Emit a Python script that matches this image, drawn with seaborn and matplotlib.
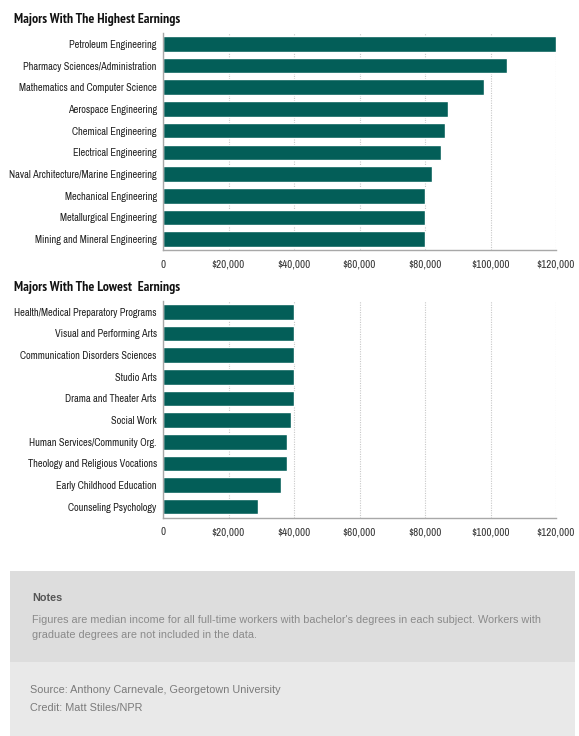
import matplotlib
matplotlib.use("Agg")
import matplotlib.pyplot as plt
import seaborn as sns
from matplotlib.patches import Rectangle
from matplotlib import font_manager

# ---------------- data ----------------
high_title = "Majors With The Highest Earnings"
high_majors = [
    "Petroleum Engineering",
    "Pharmacy Sciences/Administration",
    "Mathematics and Computer Science",
    "Aerospace Engineering",
    "Chemical Engineering",
    "Electrical Engineering",
    "Naval Architecture/Marine Engineering",
    "Mechanical Engineering",
    "Metallurgical Engineering",
    "Mining and Mineral Engineering",
]
high_earnings = [120000, 105000, 98000, 87000, 86000, 85000, 82000, 80000, 80000, 80000]

low_title = "Majors With The Lowest  Earnings"
low_majors = [
    "Health/Medical Preparatory Programs",
    "Visual and Performing Arts",
    "Communication Disorders Sciences",
    "Studio Arts",
    "Drama and Theater Arts",
    "Social Work",
    "Human Services/Community Org.",
    "Theology and Religious Vocations",
    "Early Childhood Education",
    "Counseling Psychology",
]
low_earnings = [40000, 40000, 40000, 40000, 40000, 39000, 38000, 38000, 36000, 29000]

x_ticks = [0, 20000, 40000, 60000, 80000, 100000, 120000]
x_tick_labels = ["0", "$20,000", "$40,000", "$60,000", "$80,000", "$100,000", "$120,000"]

notes_title = "Notes"
notes_lines = [
    "Figures are median income for all full-time workers with bachelor's degrees in each subject. Workers with",
    "graduate degrees are not included in the data.",
]
source_lines = [
    "Source: Anthony Carnevale, Georgetown University",
    "Credit: Matt Stiles/NPR",
]

# ---------------- style ----------------
W, H = 579, 736
BAR = "#035e58"
sns.set_theme(style="white")

entries = font_manager.fontManager.ttflist
names = {f.name for f in entries}


def wnum(w):
    if isinstance(w, str):
        return font_manager.weight_dict.get(w, 400)
    return w


def has_bold(name):
    return any(f.name == name and wnum(f.weight) >= 700 for f in entries)


NARROW = "Archivo Narrow" if "Archivo Narrow" in names else (
    "PT Sans Narrow" if "PT Sans Narrow" in names else "DejaVu Sans")
BOLD_NARROW = "DejaVu Sans"
for cand in ["PT Sans Narrow", "Archivo Narrow", "Fira Sans Condensed",
             "IBM Plex Sans Condensed", "Encode Sans Condensed", "Asap Condensed"]:
    if cand in names and has_bold(cand):
        BOLD_NARROW = cand
        break
REG = "Liberation Sans" if "Liberation Sans" in names else "DejaVu Sans"
plt.rcParams["font.family"] = [NARROW, "DejaVu Sans"]
NFAM = [NARROW, "DejaVu Sans"]
BFAM = [BOLD_NARROW, "DejaVu Sans"]
RFAM = [REG, "DejaVu Sans"]

fig = plt.figure(figsize=(W / 100, H / 100), dpi=100)
fig.patch.set_facecolor("white")
renderer = fig.canvas.get_renderer()


def fit_size(text, family, weight, target_px, base=8.0):
    t = fig.text(0, 0, text, fontsize=base, family=family, fontweight=weight)
    w = t.get_window_extent(renderer).width
    t.remove()
    return base * target_px / w


YLAB = fit_size("Naval Architecture/Marine Engineering", NFAM, "normal", 147)
XLAB = fit_size("$20,000", NFAM, "normal", 33)
TSIZE = fit_size(high_title, BFAM, "bold", 165)
NSIZE = fit_size(notes_lines[0], RFAM, "normal", 509)
SSIZE = fit_size(source_lines[0], RFAM, "normal", 251)


def px_axes(left, top, right, bottom):
    return fig.add_axes([left / W, 1 - bottom / H, (right - left) / W, (bottom - top) / H])


def fx(x):
    return x / W


def fy(y):
    return 1 - y / H


def panel(ax, cats, vals):
    sns.barplot(x=vals, y=cats, orient="h", color=BAR, saturation=1, width=0.72, ax=ax)
    ax.set_xlim(0, 120000)
    ax.set_ylim(len(cats) - 0.5, -0.5)
    ax.set_xticks(x_ticks)
    ax.set_xticklabels(x_tick_labels)
    ax.set_xlabel("")
    ax.set_ylabel("")
    ax.grid(axis="x", linestyle=(0, (1, 1.2)), color="#c8c8c8", lw=0.8)
    ax.grid(axis="y", visible=False)
    ax.set_axisbelow(True)
    for s in ("top", "right"):
        ax.spines[s].set_visible(False)
    for s in ("left", "bottom"):
        ax.spines[s].set_color("#a8a8a8")
        ax.spines[s].set_linewidth(1.0)
    ax.tick_params(axis="y", length=0, pad=4.5, labelsize=YLAB, labelcolor="#222222")
    ax.tick_params(axis="x", length=0, pad=7.0, labelsize=XLAB, labelcolor="#333333")
    for lab in ax.get_xticklabels() + ax.get_yticklabels():
        lab.set_fontfamily(NFAM)
    ax.set_facecolor("white")


ax1 = px_axes(163, 33, 556, 250)
panel(ax1, high_majors, high_earnings)
ax2 = px_axes(163, 301, 556, 517.5)
panel(ax2, low_majors, low_earnings)

fig.text(fx(14), fy(19), high_title, fontsize=TSIZE, fontweight="bold", color="#111111",
         va="center", ha="left", family=BFAM)
fig.text(fx(14), fy(287), low_title, fontsize=TSIZE, fontweight="bold", color="#111111",
         va="center", ha="left", family=BFAM)

# notes boxes
fig.add_artist(Rectangle((fx(10), fy(662)), (575 - 10) / W, (662 - 571) / H,
                         transform=fig.transFigure, facecolor="#dddddd", edgecolor="none", zorder=0))
fig.add_artist(Rectangle((fx(10), fy(736)), (575 - 10) / W, (736 - 662) / H,
                         transform=fig.transFigure, facecolor="#e9e9e9", edgecolor="none", zorder=0))

fig.text(fx(32), fy(598), notes_title, fontsize=NSIZE, fontweight="bold", color="#555555",
         va="center", ha="left", family=RFAM)
for i, line in enumerate(notes_lines):
    fig.text(fx(32), fy(620 + i * 15), line, fontsize=NSIZE, color="#8a8a8a",
             va="center", ha="left", family=RFAM)
for i, line in enumerate(source_lines):
    fig.text(fx(30), fy(690 + i * 18), line, fontsize=SSIZE, color="#7a7a7a",
             va="center", ha="left", family=RFAM)

fig.savefig("out.png", dpi=100, facecolor="white")
